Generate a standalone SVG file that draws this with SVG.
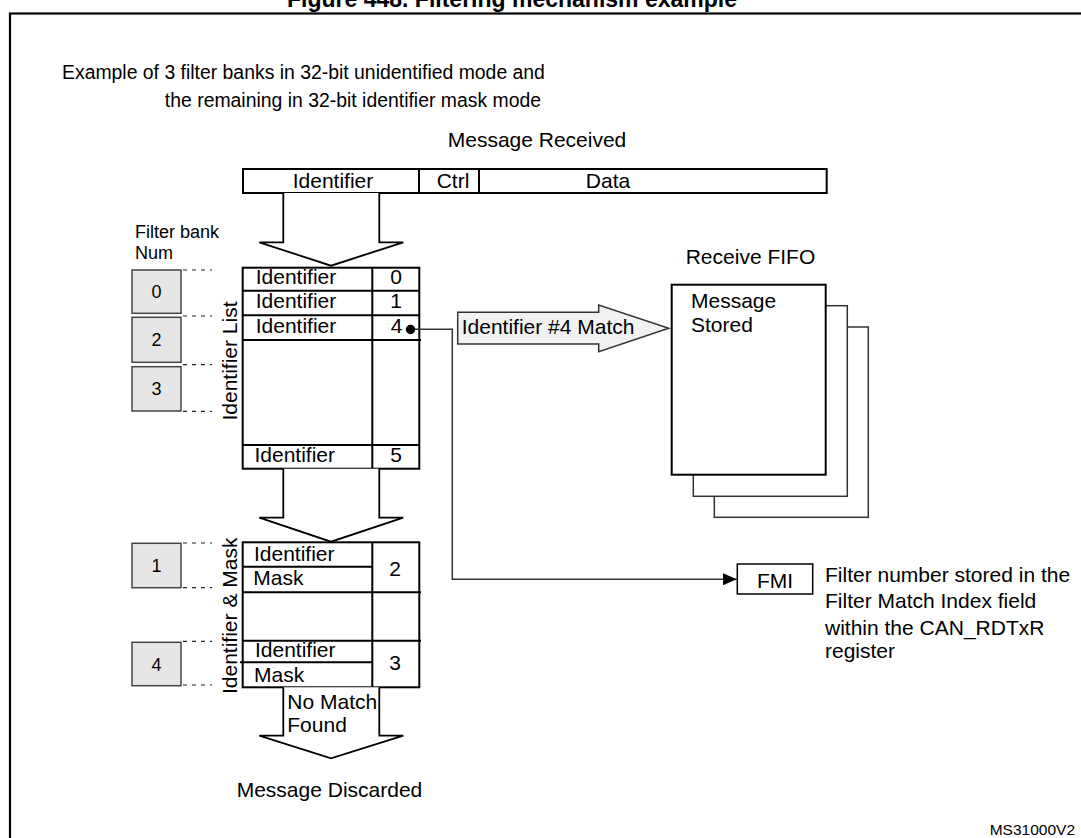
<svg xmlns="http://www.w3.org/2000/svg" width="1081" height="838" viewBox="0 0 1081 838">
<style>
text{font-family:"Liberation Sans",Arial,Helvetica,sans-serif;fill:#000}
.f21{font-size:21px}
.f18{font-size:18px}
.hd{font-size:19.4px}
.cell{fill:#fff;stroke:#000;stroke-width:2}
.ln{stroke:#000;stroke-width:2;fill:none}
.bank{fill:#e6e6e6;stroke:#444;stroke-width:1.5}
.dash{stroke:#222;stroke-width:1.2;stroke-dasharray:4 5;fill:none}
.hollow{fill:#fff;stroke:#000;stroke-width:1.8}
.page{fill:#fff;stroke:#333;stroke-width:1.5}
.conn{fill:none;stroke:#333;stroke-width:1.5}
</style>
<defs>
<marker id="arr" markerUnits="userSpaceOnUse" markerWidth="15" markerHeight="13" refX="14" refY="6.2" orient="auto">
<path d="M0,0 L14,6.2 L0,12.4 z" fill="#000"/>
</marker>
</defs>
<rect x="0" y="0" width="1081" height="838" fill="#fff"/>
<g id="frame">
<rect x="10" y="13.5" width="1100" height="900" fill="none" stroke="#000" stroke-width="2.2"/>
<text x="512" y="6.5" text-anchor="middle" font-size="23" font-weight="bold">Figure 448. Filtering mechanism example</text>
</g>
<g id="header">
<text class="hd" x="62" y="78.5">Example of 3 filter banks in 32-bit unidentified mode and</text>
<text class="hd" x="541" y="106.5" text-anchor="end">the remaining in 32-bit identifier mask mode</text>
</g>
<g id="message">
<text class="f21" x="537" y="147" text-anchor="middle">Message Received</text>
<rect class="cell" x="243" y="169" width="583.7" height="24"/>
<line class="ln" x1="419" y1="169" x2="419" y2="193"/>
<line class="ln" x1="479" y1="169" x2="479" y2="193"/>
<text class="f21" x="333" y="188" text-anchor="middle">Identifier</text>
<text class="f21" x="453" y="188" text-anchor="middle">Ctrl</text>
<text class="f21" x="608" y="188" text-anchor="middle">Data</text>
</g>
<g id="arrow1">
<path class="hollow" d="M283.3,193 V242.3 H259.3 L331,265.7 L403.3,242.3 H379.3 V193"/>
</g>
<g id="banklabel">
<text class="f18" x="135" y="238.3">Filter bank</text>
<text class="f18" x="135" y="259.3">Num</text>
</g>
<g id="bank0">
<rect class="bank" x="132" y="270" width="49" height="43.3"/>
<text class="f18" x="156.5" y="298" text-anchor="middle">0</text>
</g>
<g id="bank2">
<rect class="bank" x="132" y="317.3" width="49" height="45"/>
<text class="f18" x="156.5" y="346" text-anchor="middle">2</text>
</g>
<g id="bank3">
<rect class="bank" x="132" y="366.7" width="49" height="44.3"/>
<text class="f18" x="156.5" y="395" text-anchor="middle">3</text>
</g>
<g id="bank1">
<rect class="bank" x="132" y="543.3" width="49" height="44.4"/>
<text class="f18" x="156.5" y="572" text-anchor="middle">1</text>
</g>
<g id="bank4">
<rect class="bank" x="132" y="642.3" width="49" height="43.4"/>
<text class="f18" x="156.5" y="670.5" text-anchor="middle">4</text>
</g>
<g id="dashes">
<path class="dash" d="M183,270 H212 M183,316 H212 M183,364.7 H212 M183,411.3 H212 M183,543 H212 M183,587.7 H212 M183,641.3 H212 M183,685 H212"/>
</g>
<g id="idlist">
<rect class="cell" x="242.7" y="267.7" width="176.6" height="201"/>
<path class="ln" d="M242.7,290.7 H419.3 M242.7,315.3 H419.3 M242.7,340 H421 M242.7,445 H419.3 M372.3,267.7 V468.7"/>
<text class="f21" x="255.7" y="284.3">Identifier</text>
<text class="f21" x="255.7" y="308.3">Identifier</text>
<text class="f21" x="255.7" y="333.3">Identifier</text>
<text class="f21" x="254.5" y="461.7">Identifier</text>
<text class="f21" x="396" y="284.3" text-anchor="middle">0</text>
<text class="f21" x="396" y="308.3" text-anchor="middle">1</text>
<text class="f21" x="396.5" y="333.3" text-anchor="middle">4</text>
<text class="f21" x="396" y="461.7" text-anchor="middle">5</text>
<text class="f21" transform="translate(236.7,361) rotate(-90)" text-anchor="middle">Identifier List</text>
</g>
<g id="arrow2">
<path class="hollow" d="M283.3,468.7 V517.7 H259.3 L331,541.7 L403.3,517.7 H379.3 V468.7"/>
</g>
<g id="idmask">
<rect class="cell" x="242.7" y="542.3" width="176.6" height="145"/>
<path class="ln" d="M242.7,566.7 H372.3 M242.7,592.3 H421 M242.7,640.7 H421 M240,662.3 H372.3 M372.3,542.3 V687.3"/>
<text class="f21" x="254" y="561">Identifier</text>
<text class="f21" x="253.3" y="585">Mask</text>
<text class="f21" x="255" y="657.3">Identifier</text>
<text class="f21" x="254" y="681.7">Mask</text>
<text class="f21" x="395" y="575.7" text-anchor="middle">2</text>
<text class="f21" x="395" y="670" text-anchor="middle">3</text>
<text class="f21" transform="translate(237,615.8) rotate(-90)" text-anchor="middle">Identifier &amp; Mask</text>
</g>
<g id="arrow3">
<path class="hollow" d="M283.3,687.3 V735.7 H259.3 L331,758.3 L403.3,735.7 H379.3 V687.3"/>
<text class="f21" x="287.3" y="709.3">No Match</text>
<text class="f21" x="287.3" y="731.7">Found</text>
</g>
<g id="discarded">
<text class="f21" x="236.7" y="797.3">Message Discarded</text>
</g>
<g id="matcharrow">
<polygon points="457.7,312.3 598.7,312.3 598.7,305 668.7,328.3 598.7,351.7 598.7,344 457.7,344" fill="#f2f2f2" stroke="#333" stroke-width="1.5"/>
<text class="f21" x="461.7" y="334.3">Identifier #4 Match</text>
</g>
<g id="fifo">
<text class="f21" x="685.7" y="264.3">Receive FIFO</text>
<rect class="page" x="714.3" y="327" width="154" height="190.3"/>
<rect class="page" x="693.3" y="305.7" width="154" height="190.6"/>
<rect class="cell" x="671.7" y="284.7" width="154" height="190"/>
<text class="f21" x="691" y="308.3">Message</text>
<text class="f21" x="691" y="331.7">Stored</text>
</g>
<g id="connectors">
<path class="conn" d="M410.7,329.3 H452.3 V579.3 H736.7" marker-end="url(#arr)"/>
<circle cx="410.5" cy="329.5" r="4.7" fill="#000"/>
</g>
<g id="fmi">
<rect x="737.3" y="564" width="75.4" height="30" fill="#fff" stroke="#000" stroke-width="1.5"/>
<text class="f21" x="775" y="588" text-anchor="middle">FMI</text>
</g>
<g id="fminote">
<text class="f21" x="825" y="581.7">Filter number stored in the</text>
<text class="f21" x="825" y="608.3">Filter Match Index field</text>
<text class="f21" x="825" y="635">within the CAN_RDTxR</text>
<text class="f21" x="825" y="658">register</text>
</g>
<g id="ref">
<text x="1075" y="835" text-anchor="end" style="font-size:15.5px">MS31000V2</text>
</g>
</svg>
